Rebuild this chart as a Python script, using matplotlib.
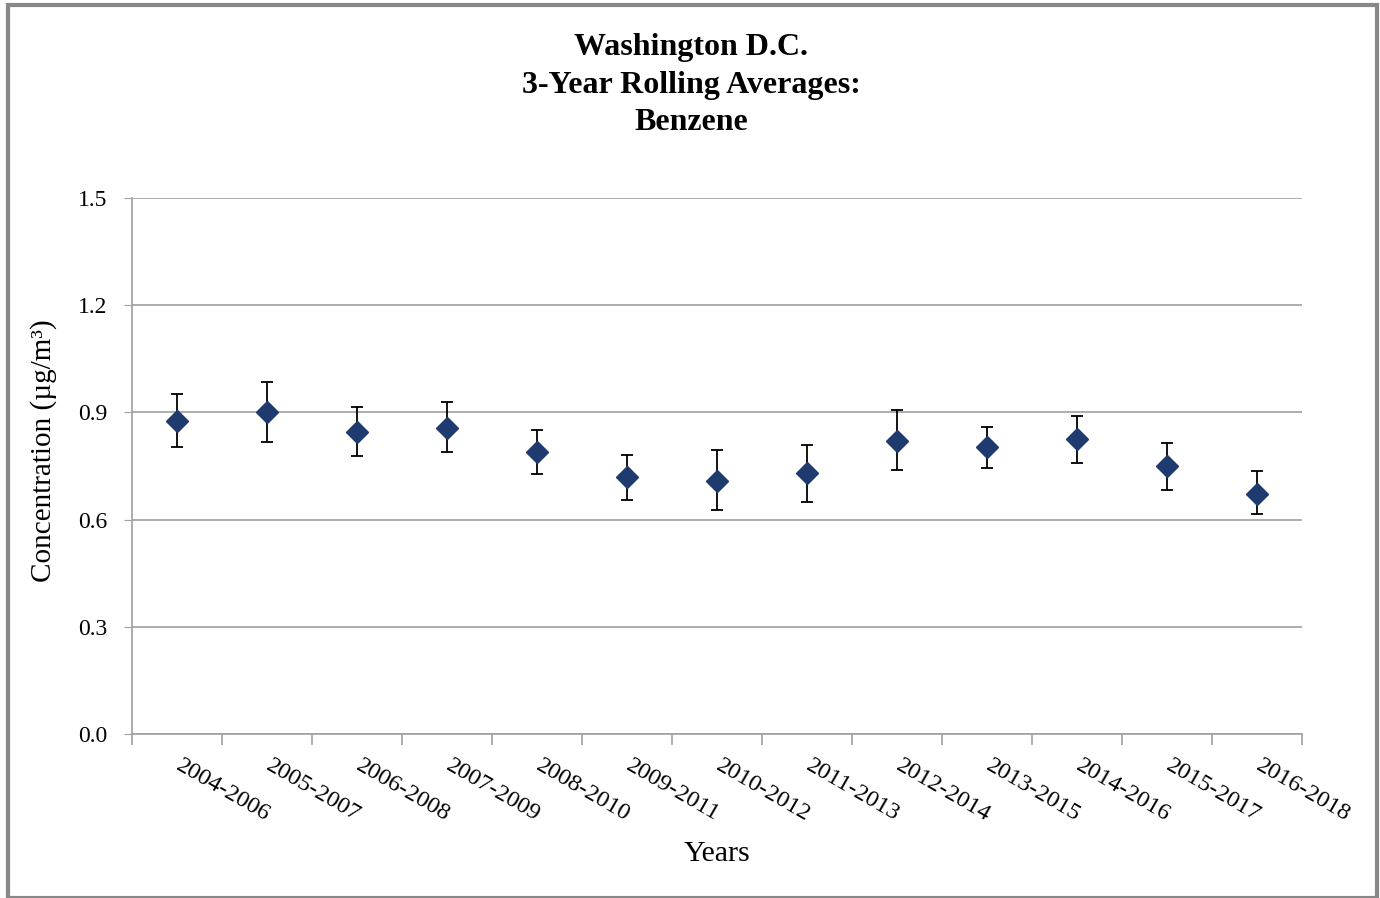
import numpy as np
import matplotlib; matplotlib.use("Agg")
import matplotlib.pyplot as plt
from matplotlib.patches import Rectangle
from matplotlib.transforms import ScaledTranslation

periods = ["2004-2006", "2005-2007", "2006-2008", "2007-2009", "2008-2010", "2009-2011",
           "2010-2012", "2011-2013", "2012-2014", "2013-2015", "2014-2016", "2015-2017", "2016-2018"]
mean = [0.875, 0.901, 0.846, 0.857, 0.788, 0.720, 0.709, 0.731, 0.821, 0.803, 0.826, 0.749, 0.673]
upper = [0.951, 0.984, 0.915, 0.929, 0.850, 0.781, 0.796, 0.810, 0.907, 0.860, 0.889, 0.813, 0.735]
lower = [0.803, 0.818, 0.777, 0.789, 0.727, 0.655, 0.626, 0.648, 0.739, 0.745, 0.759, 0.684, 0.617]
yticks = [0.0, 0.3, 0.6, 0.9, 1.2, 1.5]

plt.rcParams["font.family"] = ["Liberation Serif", "DejaVu Serif"]
W, H = 1380, 898
fig = plt.figure(figsize=(W / 100, H / 100), dpi=100)
ax = fig.add_axes([132 / W, 1 - 734 / H, (1302 - 132) / W, (734 - 198) / H])

x = np.arange(len(periods))
m = np.array(mean)
err = [m - np.array(lower), np.array(upper) - m]
ax.errorbar(x, m, yerr=err, fmt="D", color="#1f3a6e", ms=11.5, mec="#1f3a6e",
            ecolor="black", elinewidth=1.3, capsize=4, capthick=1.3, zorder=3)

grey = "#a0a0a0"
ax.set_xlim(-0.5, len(periods) - 0.5)
ax.set_ylim(0, 1.5)
ax.set_yticks(yticks)
ax.set_yticklabels([f"{v:.1f}" for v in yticks], fontsize=17)
ax.yaxis.grid(True, color=grey, lw=1.2)
ax.set_axisbelow(True)
ax.tick_params(axis="y", length=6, color=grey, pad=12)

ax.set_xticks(x)
ax.set_xticklabels(periods, rotation=-30, ha="left", va="top", rotation_mode="anchor", fontsize=17.5)
ax.tick_params(axis="x", which="major", length=0, pad=15)
shift = ScaledTranslation(6 / 100, 0, fig.dpi_scale_trans)
for lab in ax.get_xticklabels():
    lab.set_transform(lab.get_transform() + shift)
ax.set_xticks(np.arange(-0.5, len(periods)), minor=True)
ax.tick_params(axis="x", which="minor", length=8, color=grey, width=1.2)

for s in ["top", "right"]:
    ax.spines[s].set_visible(False)
for s in ["left", "bottom"]:
    ax.spines[s].set_color(grey)
    ax.spines[s].set_linewidth(1.2)

ax.set_ylabel("Concentration (µg/m³)", fontsize=21)
ax.yaxis.set_label_coords(-0.064, 0.528)
ax.set_xlabel("Years", fontsize=21.5)
ax.xaxis.set_label_coords(0.5, -0.2)

fig.text(691 / W, 1 - 85 / H, "Washington D.C.\n3-Year Rolling Averages:\nBenzene",
         ha="center", va="center", fontsize=23, fontweight="bold", linespacing=1.37)

fig.patches.append(Rectangle((8 / W, 0), (1377 - 8) / W, 1 - 5 / H, transform=fig.transFigure,
                             fill=False, ec="#888888", lw=3))

fig.savefig("out.png", dpi=100)
